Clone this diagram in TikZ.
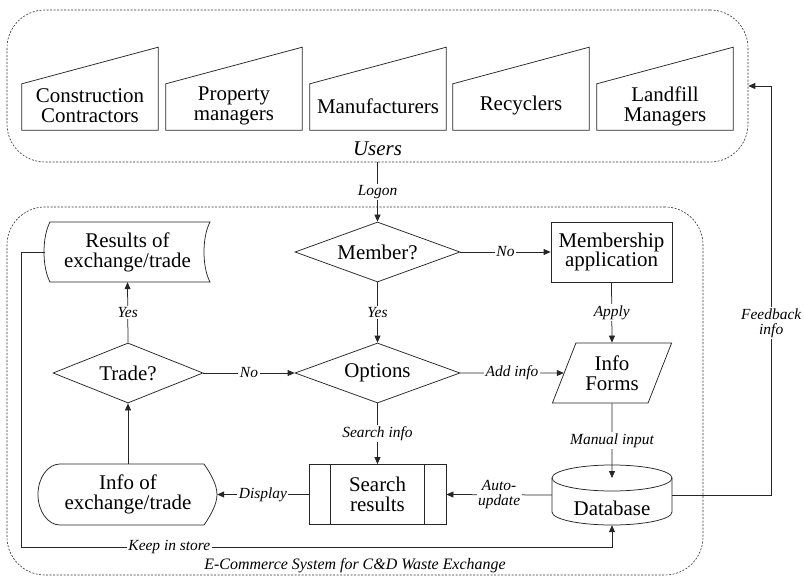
\documentclass[tikz,border=0pt]{standalone}
\usepackage{fontspec}
\setmainfont{Liberation Serif}
\usetikzlibrary{shapes.geometric,arrows.meta,calc}
\begin{document}
\begin{tikzpicture}[x=1bp,y=-1bp,
  every node/.style={inner sep=0pt},
  ln/.style={line width=0.75bp, draw=black!85},
  box/.style={font=\fontsize{21}{20}\selectfont, align=center},
  lbl/.style={font=\fontsize{15.5}{15}\selectfont\itshape, fill=white, inner sep=1.5bp, align=center},
  arr/.style={ln, -{Triangle[length=7bp,width=6bp]}},
  cont/.style={draw=black!80, line width=0.6bp, dash pattern=on 2bp off 1.5bp, rounded corners=38bp},
  dia/.style={box, diamond, ln, aspect=2.75, inner sep=0pt}]
\useasboundingbox (0,0) rectangle (804,576);

% containers
\node[cont, minimum width=741bp, minimum height=152bp] (ucont) at (377.5,86) {};
\node[cont, minimum width=696bp, minimum height=368bp] (scont) at (355,391) {};
\node[font=\fontsize{21}{21}\selectfont\itshape] (users) at (377.5,149) {Users};
\node[font=\fontsize{16}{16}\selectfont\itshape] (cap) at (355,566) {E-Commerce System for C\&D Waste Exchange};

% user boxes (manual input shape)
\newcommand\ubox[3]{%
  \node[box, minimum width=136bp, minimum height=46bp] (#1) at (#2+68,106) {#3};
  \draw[ln] ([yshift=-1bp]#1.south west) -- ([yshift=-1bp]#1.south east) -- ++(0,-83) -- ([yshift=-1bp]#1.north west) -- cycle;}
\ubox{u1}{22}{Construction\\Contractors}
\ubox{u2}{166}{Property\\managers}
\ubox{u3}{310}{Manufacturers}
\ubox{u4}{453}{Recyclers}
\ubox{u5}{597}{Landfill\\Managers}

% decisions
\node[dia, minimum width=165bp, minimum height=60bp] (mem) at (377.5,252) {Member?};
\node[dia, minimum width=165bp, minimum height=60bp] (opt) at (377.5,373) {Options};
\node[dia, aspect=2.5, minimum width=150bp, minimum height=60bp] (trade) at (128,373) {Trade?};

% process boxes
\node[box, draw, ln, minimum width=121bp, minimum height=60bp] (memapp) at (611.5,252) {Membership\\application};
\node[box, trapezium, trapezium left angle=63.43, trapezium right angle=116.57,
      trapezium stretches=true, draw, ln, minimum width=120bp, minimum height=60bp] (forms) at (612,373) {Info\\Forms};
\node[box, draw, ln, minimum width=137bp, minimum height=60bp] (search) at (377.5,494.5) {Search\\results};
\draw[ln] ([xshift=22bp]search.north west) -- ([xshift=22bp]search.south west);
\draw[ln] ([xshift=-22bp]search.north east) -- ([xshift=-22bp]search.south east);

% database (cylinder)
\node[box, minimum width=120bp, minimum height=60bp, text height=40bp, text depth=0bp] (db) at (612,495) {Database};
\draw[ln] (552,478) -- (552,512) arc[start angle=180, end angle=0, x radius=60, y radius=13] -- (672,478);
\draw[ln] (612,478) ellipse [x radius=60, y radius=13];
\coordinate (dbtop) at (612,478);

% results of exchange (stored data)
\node[box, minimum width=165bp, minimum height=60bp] (res) at (127.5,252) {Results of\\exchange/trade};
\draw[ln] (50,222) -- (210,222) .. controls (202,237) and (202,267) .. (210,282) -- (50,282)
  .. controls (42,267) and (42,237) .. (50,222) -- cycle;

% info of exchange (display)
\node[box, minimum width=178bp, minimum height=61bp] (info) at (128,494.5) {Info of\\exchange/trade};
\draw[ln] (60,464) -- (204,464) .. controls (211,474) and (217,485) .. (217,494.5)
  .. controls (217,504) and (211,515) .. (204,525) -- (60,525)
  arc[start angle=90, end angle=270, x radius=22, y radius=30.5] -- cycle;

% connectors
\draw[arr] (ucont.south) -- node[lbl]{Logon} (mem.north);
\draw[arr] (mem.east) -- node[lbl]{No} (memapp.west);
\draw[arr] (mem.south) -- node[lbl]{Yes} (opt.north);
\draw[arr] (memapp.south) -- node[lbl]{Apply} (forms.north);
\draw[arr] (opt.east) -- node[lbl]{Add info} (forms.west);
\draw[arr] (trade.east) -- node[lbl]{No} (opt.west);
\draw[arr] (trade.north) -- node[lbl]{Yes} (res.south);
\draw[arr] (info.north) -- (trade.south);
\draw[arr] (opt.south) -- node[lbl]{Search info} (search.north);
\draw[arr] (search.west) -- node[lbl]{Display} (info.east);
\draw[arr] (forms.south) -- node[lbl]{Manual input} (dbtop);
\draw[arr] (db.west) -- node[lbl]{Auto-\\update} (search.east);
\draw[arr] (db.east) -- ++(99,0) |- node[lbl, pos=0.21]{Feedback\\info} (ucont.east);
\draw[arr] (res.west) -- ++(-23,0) |- node[lbl, pos=0.625]{Keep in store} ($(db.south)+(0,22)$) -- (db.south);
\end{tikzpicture}
\end{document}
